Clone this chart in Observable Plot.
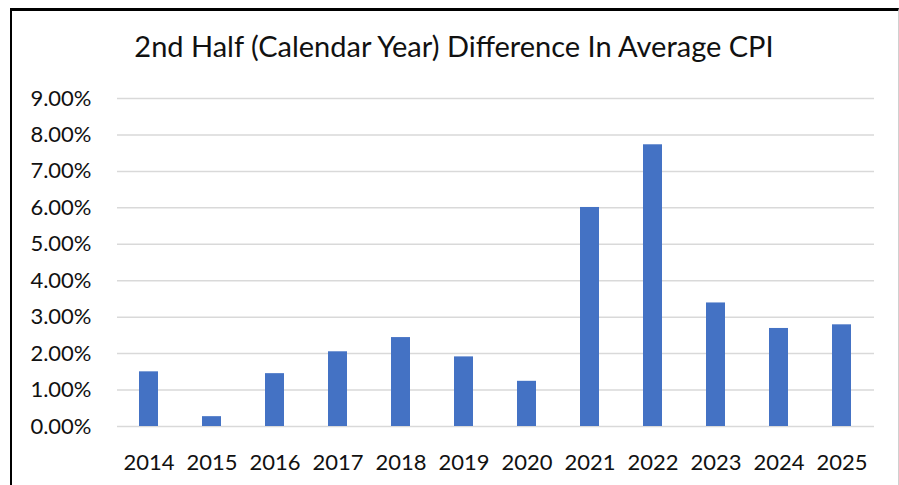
<!DOCTYPE html>
<html><head><meta charset="utf-8">
<script src="https://cdn.jsdelivr.net/npm/d3@7"></script>
<script src="https://cdn.jsdelivr.net/npm/@observablehq/plot@0.6"></script>
<style>
html,body{margin:0;padding:0;background:#fff;}
#wrap{position:relative;width:899px;height:485px;overflow:hidden;font-family:Lato,sans-serif;background:#fff;}
#frame{position:absolute;left:10px;top:8px;width:889px;height:500px;border-left:2px solid #000;border-top:3px solid #000;border-right:1px solid #d0d0d0;box-sizing:border-box;pointer-events:none;}
#title{position:absolute;left:0;width:908px;top:31px;text-align:center;font-size:29px;line-height:29px;color:#111;white-space:nowrap;}
#chart{position:absolute;left:0;top:0;}
</style>
</head><body>
<div id="wrap">
  <div id="chart"></div>
  <div id="frame"></div>
  <div id="title">2nd Half (Calendar Year) Difference In Average CPI</div>
</div>
<script>
const years = ["2014","2015","2016","2017","2018","2019","2020","2021","2022","2023","2024","2025"];
const values = [1.50, 0.27, 1.45, 2.05, 2.44, 1.91, 1.24, 6.01, 7.73, 3.39, 2.69, 2.79]; // percent
const yTicks = [0, 0.01, 0.02, 0.03, 0.04, 0.05, 0.06, 0.07, 0.08, 0.09];

const data = years.map((y, i) => ({year: y, value: values[i] / 100}));

const chart = Plot.plot({
  width: 899,
  height: 485,
  marginTop: 98,
  marginBottom: 59,
  marginLeft: 117,
  marginRight: 25,
  x: {domain: years, paddingInner: 0.694, paddingOuter: 0.347, label: null},
  y: {domain: [0, 0.09], label: null},
  style: {fontFamily: "Lato, sans-serif", fontSize: "22px", color: "#111", background: "transparent", overflow: "visible"},
  marks: [
    Plot.ruleY(yTicks, {stroke: "#d9d9d9", strokeWidth: 1.5}),
    Plot.barY(data, {x: "year", y: "value", fill: "#4472C4"}),
    Plot.axisX({tickSize: 0, tickPadding: 28, fontSize: 22, fill: "#111"}),
    Plot.axisY({ticks: yTicks, tickFormat: d3.format(".2%"), tickSize: 0, tickPadding: 26, fontSize: 22, fill: "#111"})
  ]
});
document.getElementById("chart").appendChild(chart);
</script>
</body></html>
